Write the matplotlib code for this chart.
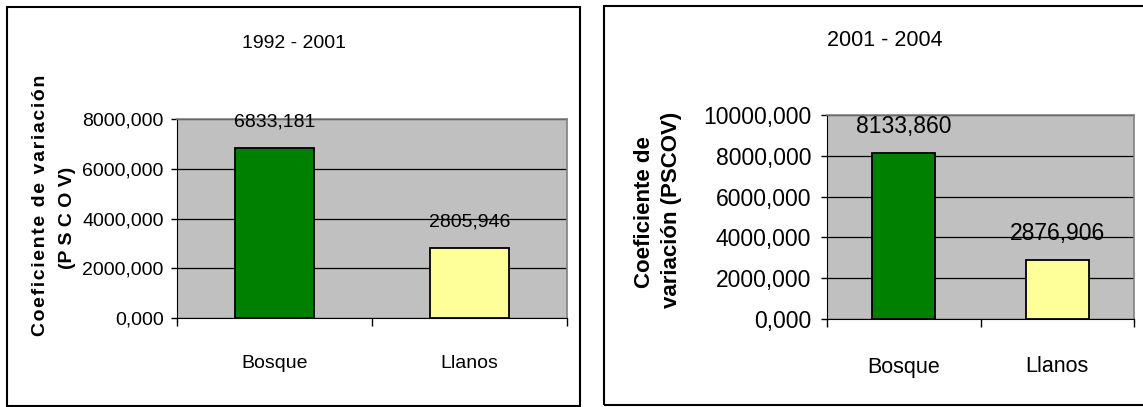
import matplotlib
matplotlib.use("Agg")
import matplotlib.pyplot as plt
import matplotlib.ticker as ticker
from matplotlib import font_manager
from matplotlib.patches import Rectangle

# Data for the two periods
categories = ["Bosque", "Llanos"]
values_1992_2001 = [6833.181, 2805.946]
values_2001_2004 = [8133.860, 2876.906]
bar_colors = ["#008000", "#FFFF99"]
yticks_left = [0, 2000, 4000, 6000, 8000]
yticks_right = [0, 2000, 4000, 6000, 8000, 10000]


def pick_font(names):
    for name in names:
        try:
            font_manager.findfont(name, fallback_to_default=False)
            return name
        except Exception:
            continue
    return "DejaVu Sans"


narrow = pick_font(["Liberation Sans Narrow", "Liberation Sans"])
arial = pick_font(["Liberation Sans", "DejaVu Sans"])
# narrow face missing -> shrink the left chart's text to keep widths
left_size = 16.5 if narrow == "Liberation Sans Narrow" else 14

W, H = 1143, 407
fig = plt.figure(figsize=(W / 100, H / 100), dpi=100)
fig.patch.set_facecolor("white")


def fig_box(x0, y0, x1, y1):
    # pixel box (top-left origin) -> figure fraction [left, bottom, width, height]
    return [x0 / W, 1 - y1 / H, (x1 - x0) / W, (y1 - y0) / H]


def fmt_es(v, pos=None):
    return "{:.3f}".format(v).replace(".", ",")


def draw_panel(box, values, yticks, font, fsize, xsize, ypad):
    ax = fig.add_axes(fig_box(*box))
    ax.set_facecolor("#C0C0C0")
    x = range(len(categories))
    ax.bar(x, values, width=0.41, color=bar_colors, edgecolor="black", linewidth=1.3, zorder=3)
    ax.set_xlim(-0.5, len(categories) - 0.5)
    ax.set_ylim(0, yticks[-1])
    ax.set_yticks(yticks)
    ax.yaxis.set_major_formatter(ticker.FuncFormatter(fmt_es))
    ax.yaxis.grid(True, color="black", linewidth=0.9, zorder=1)
    ax.set_axisbelow(True)

    # category labels on minor ticks, separator ticks on major
    ax.set_xticks([-0.5, 0.5, 1.5])
    ax.set_xticklabels([])
    ax.set_xticks([0, 1], minor=True)
    ax.set_xticklabels(categories, minor=True, fontfamily=font, fontsize=xsize)
    ax.tick_params(axis="x", which="major", length=6, width=1, direction="out")
    ax.tick_params(axis="x", which="minor", length=0, pad=27)
    ax.tick_params(axis="y", length=4, width=1, direction="out", pad=ypad)
    for lbl in ax.get_yticklabels():
        lbl.set_fontfamily(font)
        lbl.set_fontsize(fsize)

    for side in ["top", "right"]:
        ax.spines[side].set_color("#808080")
        ax.spines[side].set_linewidth(1.2)
    ax.spines["left"].set_color("black")
    ax.spines["bottom"].set_color("black")

    for xi, v in zip(x, values):
        ax.annotate(fmt_es(v), xy=(xi, v), xytext=(0, 19), textcoords="offset points",
                    ha="center", va="center", fontfamily=font, fontsize=fsize, zorder=4)
    return ax


ax1 = draw_panel((177, 119, 567, 318), values_1992_2001, yticks_left, narrow, left_size, left_size, 5.5)
ax2 = draw_panel((827, 115, 1134, 319), values_2001_2004, yticks_right, arial, 16.5, 15.5, 7.5)

# outer frames around each chart
fig.patches.append(Rectangle((7 / W, 1 - 406 / H), 573 / W, 399 / H, transform=fig.transFigure,
                             fill=False, edgecolor="black", linewidth=1.5))
fig.patches.append(Rectangle((604 / W, 1 - 405 / H), 560 / W, 399 / H, transform=fig.transFigure,
                             fill=False, edgecolor="black", linewidth=1.5))

# titles
fig.text(294 / W, 1 - 43 / H, "1992 - 2001", ha="center", va="center", fontfamily=narrow, fontsize=left_size)
fig.text(885 / W, 1 - 40 / H, "2001 - 2004", ha="center", va="center", fontfamily=arial, fontsize=15.5)

# axis titles, left one with spread-out letters
hair = "\u200a"
line1 = hair.join("Coeficiente de variación")
fig.text(41 / W, 1 - 205 / H, line1, rotation=90, ha="center", va="center",
         fontfamily=[arial, "DejaVu Sans"], fontweight="bold", fontsize=14)
fig.text(67 / W, 1 - 218 / H, "(P S C O V)", rotation=90, ha="center", va="center",
         fontfamily=arial, fontweight="bold", fontsize=14)

fig.text(645 / W, 1 - 212 / H, "Coeficiente de", rotation=90, ha="center", va="center",
         fontfamily=arial, fontweight="bold", fontsize=16)
fig.text(672 / W, 1 - 210 / H, "variación (PSCOV)", rotation=90, ha="center", va="center",
         fontfamily=arial, fontweight="bold", fontsize=16)

fig.savefig("out.png", dpi=100)
